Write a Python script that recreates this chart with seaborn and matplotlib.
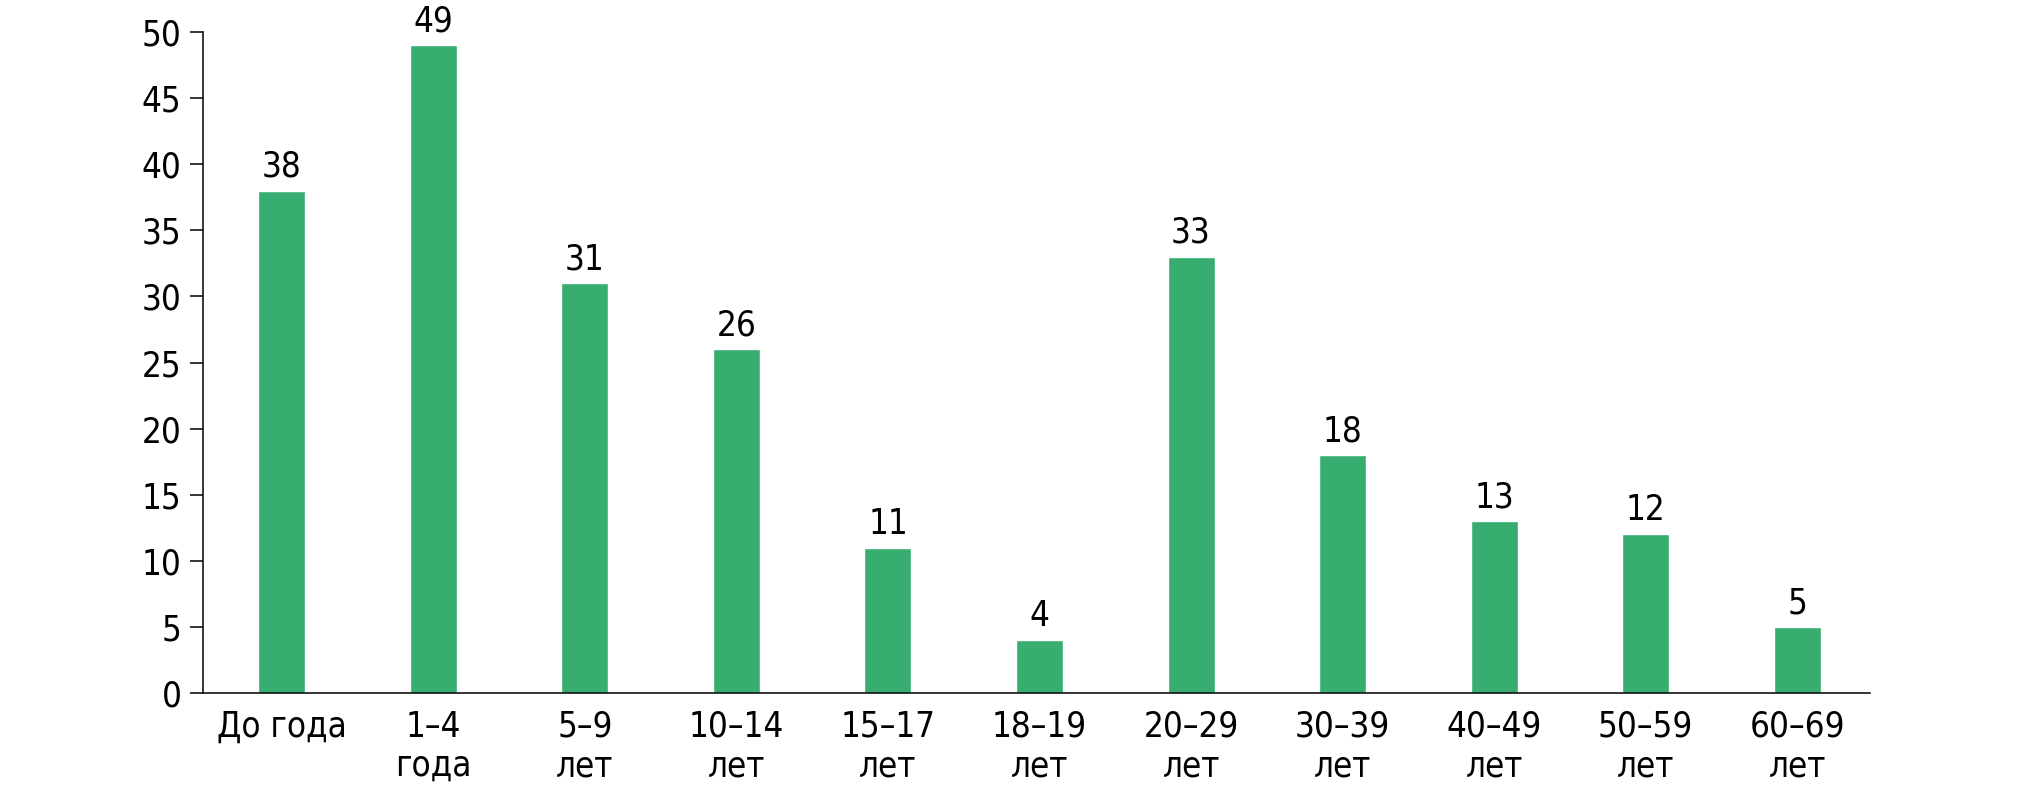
import matplotlib
matplotlib.use("Agg")
import matplotlib.pyplot as plt
import seaborn as sns
import pandas as pd

# data
categories = ["До года", "1–4\nгода", "5–9\nлет", "10–14\nлет", "15–17\nлет", "18–19\nлет",
              "20–29\nлет", "30–39\nлет", "40–49\nлет", "50–59\nлет", "60–69\nлет"]
values = [38, 49, 31, 26, 11, 4, 33, 18, 13, 12, 5]
y_ticks = [0, 5, 10, 15, 20, 25, 30, 35, 40, 45, 50]

df = pd.DataFrame({"cat": categories, "val": values})

sns.set_style("white")
plt.rcParams['font.family'] = ['DejaVu Sans']
plt.rcParams['font.stretch'] = 'condensed'
plt.rcParams['text.color'] = 'black'
plt.rcParams['xtick.color'] = 'black'
plt.rcParams['ytick.color'] = 'black'

fig = plt.figure(figsize=(20.2, 7.89), dpi=100)
ax = fig.add_axes([0.1005, 0.1217, 0.8252, 0.8377])

sns.barplot(data=df, x="cat", y="val", color="#37AE70", width=0.31,
            saturation=1, ax=ax)

# value labels above bars
for i, v in enumerate(values):
    ax.text(i, v + 1.05, str(v), ha="center", va="baseline", fontsize=25, color="black",
            clip_on=False)

ax.set_xlim(-0.52, 10.48)
ax.set_ylim(0, 50)
ax.set_yticks(y_ticks)
ax.set_xlabel("")
ax.set_ylabel("")
ax.tick_params(axis="y", length=9.5, width=1.1, pad=6, labelsize=25, left=True)
ax.tick_params(axis="x", length=0, pad=12, labelsize=25)
for s in ["top", "right"]:
    ax.spines[s].set_visible(False)
for s in ["left", "bottom"]:
    ax.spines[s].set_color("black")
    ax.spines[s].set_linewidth(1.1)

fig.savefig("out.png", dpi=100)
